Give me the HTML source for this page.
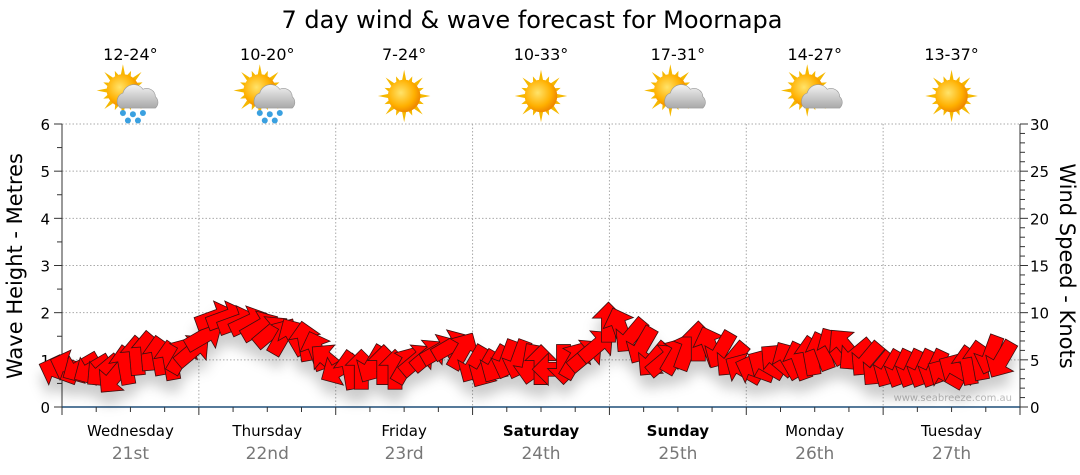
<!DOCTYPE html>
<html><head><meta charset="utf-8"><style>
html,body{margin:0;padding:0;background:#fff;}
svg{display:block;font-family:"DejaVu Sans","Liberation Sans",sans-serif;}
</style></head><body>
<svg id="chart" width="1080" height="475" viewBox="0 0 1080 475">
<defs>
<filter id="sh" x="-20%" y="-20%" width="140%" height="160%"><feDropShadow dx="0" dy="12" stdDeviation="6" flood-color="#000" flood-opacity="0.2"/></filter>
<radialGradient id="sun" cx="0.4" cy="0.4" r="0.6"><stop offset="0" stop-color="#ffe36a"/><stop offset="0.7" stop-color="#ffb000"/><stop offset="1" stop-color="#f08a00"/></radialGradient>
<linearGradient id="cloud" x1="0" y1="0" x2="0" y2="1"><stop offset="0" stop-color="#f2f2f2"/><stop offset="1" stop-color="#a9a9a9"/></linearGradient>
</defs>
<text x="532" y="28" text-anchor="middle" font-size="24" fill="#000">7 day wind &amp; wave forecast for Moornapa</text>
<g id="grid"></g>
<g id="axes"></g>
<g id="icons"></g>
<text x="1012" y="401" text-anchor="end" font-size="10" fill="#bbb">www.seabreeze.com.au</text>
<g id="arrows" filter="url(#sh)"></g>
<text transform="translate(22,266) rotate(-90)" text-anchor="middle" font-size="21" fill="#000">Wave Height - Metres</text>
<text transform="translate(1060,266) rotate(90)" text-anchor="middle" font-size="21" fill="#000">Wind Speed - Knots</text>
</svg>
<script>
const days=["Wednesday","Thursday","Friday","Saturday","Sunday","Monday","Tuesday"];
const dates=["21st","22nd","23rd","24th","25th","26th","27th"];
const boldDays=[false,false,false,true,true,false,false];
const temps=["12-24°","10-20°","7-24°","10-33°","17-31°","14-27°","13-37°"];
const weather=["rain","rain","sun","sun","cloud","cloud","sun"];
const waveTicks=[0,1,2,3,4,5,6];
const windTicks=[0,5,10,15,20,25,30];
const windSpeed=[3.8,4.3,4.2,4,3.8,3.2,4.5,5.5,6,5.5,5,5.5,6,
7.5,9.5,9.5,9,9,8.5,8,7.5,7.5,7,6,5,
4,4,4,4.5,4.5,4,4.5,5,5.5,6,6.5,6,
4.5,4,4.5,5,5,4.5,4.5,4,4.5,5,5.5,6.5,
9,8.5,7.5,6.5,5,5,5.5,6,7,6.5,6,5,
4,4,4.5,5,5,5,5.5,6,6.5,6.5,5.5,5,
4,4,4,4,4,4,3.5,4,4.5,5,5.5,5];
const windDir=[200,200,150,150,140,130,-100,-95,-95,-100,-100,-60,-40,
-30,-20,-20,-20,-25,-30,-40,-60,-120,-100,-110,-140,
150,-100,-90,120,-90,-90,-60,-40,-40,-30,-30,-60,
120,120,120,110,110,100,-90,180,90,-60,-40,-40,
-90,-110,130,120,130,-40,-60,-70,-90,-110,120,130,
-150,-160,-150,-140,-120,-110,-100,-110,-120,-130,140,130,
130,120,115,115,115,115,-150,-150,-100,-100,110,120];
const L=62,R=1020,T=124,B=407;
const dw=(R-L)/7;
const yWave=v=>B-(v/6)*(B-T);
const yWind=v=>B-(v/30)*(B-T);
const ns="http://www.w3.org/2000/svg";
function mk(p,tag,at){const e=document.createElementNS(ns,tag);for(const k in at)e.setAttribute(k,at[k]);p.appendChild(e);return e;}
const grid=document.getElementById('grid'),axes=document.getElementById('axes'),icons=document.getElementById('icons'),arrows=document.getElementById('arrows');
waveTicks.forEach(v=>{if(v>0){const l=mk(grid,'line',{x1:L,x2:R,y1:yWave(v),y2:yWave(v),stroke:'#aaa','stroke-dasharray':'1.5,2'});

}
const t=mk(axes,'text',{x:50,y:yWave(v)+6,'text-anchor':'end','font-size':15,fill:'#000'});t.textContent=v;

});
for(let v=0;v<=6;v+=0.5){mk(axes,'line',{x1:L-(v%1?5:8),x2:L,y1:yWave(v),y2:yWave(v),stroke:'#333'});}
windTicks.forEach(v=>{const t=mk(axes,'text',{x:1030,y:yWind(v)+6,'font-size':15,fill:'#000'});t.textContent=v;

});
for(let v=0;v<=30;v+=1){mk(axes,'line',{x1:R,x2:R+(v%5?5:8),y1:yWind(v),y2:yWind(v),stroke:'#333'});}
mk(axes,'line',{x1:L,x2:L,y1:T,y2:B,stroke:'#333'});
mk(axes,'line',{x1:R,x2:R,y1:T,y2:B,stroke:'#333'});
mk(axes,'line',{x1:L,x2:R,y1:B,y2:B,stroke:'#1f4e79','stroke-width':1.5});
for(let i=0;i<=28;i++){const x=L+i*dw/4;mk(axes,'line',{x1:x,x2:x,y1:B,y2:B+(i%4?5:8),stroke:'#333'});}
days.forEach((d,i)=>{const x0=L+i*dw,cx=x0+dw/2;
if(i>0){const g=mk(grid,'line',{x1:x0,x2:x0,y1:T,y2:B,stroke:'#aaa','stroke-dasharray':'1.5,2'});

}
const t=mk(axes,'text',{x:cx,y:436,'text-anchor':'middle','font-size':15,fill:'#000','font-weight':boldDays[i]?'bold':'normal'});t.textContent=d;


const t2=mk(axes,'text',{x:cx,y:459,'text-anchor':'middle','font-size':17,fill:'#777'});t2.textContent=dates[i];


const t3=mk(icons,'text',{x:cx,y:60,'text-anchor':'middle','font-size':16,fill:'#000'});t3.textContent=temps[i];


const g=mk(icons,'g',{transform:`translate(${cx},${weather[i]==='sun'?96:93}) scale(1.25)`});


const sx=weather[i]==='sun'?0:-6, sy=weather[i]==='sun'?0:-2;
for(let a=0;a<16;a++){const an=a*Math.PI/8,r1=12,r2=(a%2?17:21);const p1=an-0.15,p2=an+0.15;
mk(g,'polygon',{points:`${sx+Math.cos(p1)*r1},${sy+Math.sin(p1)*r1} ${sx+Math.cos(an)*r2},${sy+Math.sin(an)*r2} ${sx+Math.cos(p2)*r1},${sy+Math.sin(p2)*r1}`,fill:'#f5b800'});}
mk(g,'circle',{cx:sx,cy:sy,r:13,fill:'url(#sun)'});
if(weather[i]!=='sun'){mk(g,'path',{d:'M-8,12 a7,7 0 0 1 2,-12 a9,9 0 0 1 16,-3 a7,7 0 0 1 10,6 a6,6 0 0 1 0,9 z',fill:'url(#cloud)',stroke:'#999','stroke-width':0.5});}
if(weather[i]==='rain'){[[-6,16],[2,17],[10,16],[-2,22],[6,22]].forEach(p=>mk(g,'circle',{cx:p[0],cy:p[1],r:2.4,fill:'#3aa0e0'}));}
});
const arrowPts="-20,-7 4,-7 4,-16 20,0 4,16 4,7 -20,7";
windSpeed.forEach((v,i)=>{const x=L-10+i*(dw/12)*0.985+6,y=yWind(v);
const p=mk(arrows,'polygon',{points:arrowPts,transform:`translate(${x},${y}) rotate(${windDir[i]})`,fill:'#ff0000',stroke:'#3a1010','stroke-width':0.8});

});
</script>
</body></html>
